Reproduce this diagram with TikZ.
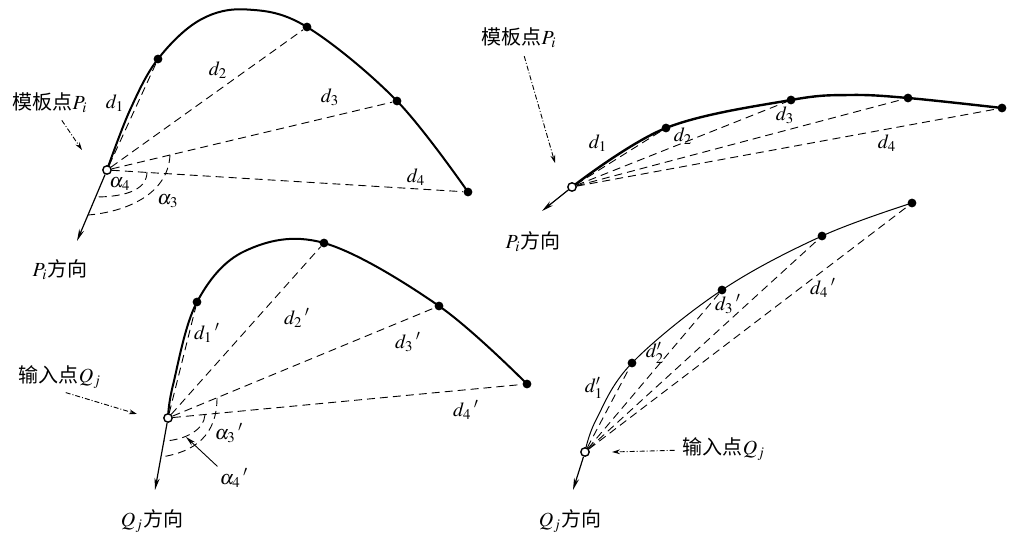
\documentclass[tikz,border=0pt]{standalone}
\usepackage{mathptmx}
\usepackage[no-math]{fontspec}
\setmainfont{Noto Sans CJK SC}
\usetikzlibrary{arrows.meta, backgrounds}

\begin{document}
\begin{tikzpicture}[
  x=0.5pt, y=-0.5pt,
  font=\fontsize{10}{12}\selectfont,
  dot/.style={circle, fill=black, inner sep=0pt, minimum size=4.4pt},
  hollow/.style={circle, draw=black, fill=white, line width=0.7pt,
                 inner sep=0pt, minimum size=4.2pt},
  chord/.style={dash pattern=on 4pt off 2.5pt, line width=0.45pt},
  curveline/.style={line width=1pt},
  dirarrow/.style={-{Stealth[length=6pt, width=2.6pt]}, line width=0.6pt},
  ptr/.style={-{Stealth[length=4pt, width=2.4pt]}, line width=0.45pt,
              dash pattern=on 2.5pt off 1pt on 0.5pt off 1pt},
  lbl/.style={inner sep=1pt}
]
\useasboundingbox (0,0) rectangle (1009,540);

% template curve (left)
\node[hollow] (P1) at (107,170) {};
\node[dot] (a1) at (158,59) {};
\node[dot] (a2) at (307,27) {};
\node[dot] (a3) at (397,101) {};
\node[dot] (a4) at (468,192) {};
\coordinate (P1dir) at (77,241);
\begin{scope}[on background layer]
\draw[curveline] plot[smooth, tension=0.6] coordinates {(P1.center) (130,110) (a1.center)
  (200,20) (247,9.5) (a2.center) (a3.center) (a4.center)};
\end{scope}
\foreach \p in {a1,a2,a3,a4} \draw[chord] (P1) -- (\p);
\draw[dirarrow] (P1) -- (P1dir);
\draw[chord] (147,172) .. controls (147,192) and (120,197) .. (95,197);
\draw[chord] (170,155) .. controls (168,195) and (125,212) .. (88,215);

\node[lbl] (tplA) at (50,103) {模板点$P_i$};
\coordinate (tplAtip) at (82,150);
\draw[ptr, shorten <=3pt] (tplA) -- (tplAtip);
\node[lbl] (d1A) at (115,103) {$d_1$};
\node[lbl] (d2A) at (218,70) {$d_2$};
\node[lbl] (d3A) at (330,97) {$d_3$};
\node[lbl] (d4A) at (416,177) {$d_4$};
\node[lbl] (al4A) at (120,184) {$\alpha_4$};
\node[lbl] (al3A) at (168,201) {$\alpha_3$};
\node[lbl] (dirA) at (60,270) {$P_i$方向};

% template curve (right)
\node[hollow] (P2) at (572,187) {};
\node[dot] (b1) at (666,128) {};
\node[dot] (b2) at (791,100) {};
\node[dot] (b3) at (908,98) {};
\node[dot] (b4) at (1002,108) {};
\coordinate (P2dir) at (542,211);
\begin{scope}[on background layer]
\draw[line width=1.2pt] plot[smooth, tension=0.6] coordinates {(P2.center) (b1.center)
  (b2.center) (850,95) (b3.center) (b4.center)};
\end{scope}
\foreach \p in {b1,b2,b3,b4} \draw[chord] (P2) -- (\p);
\draw[dirarrow] (P2) -- (P2dir);

\node[lbl] (tplB) at (519,38) {模板点$P_i$};
\coordinate (tplBtip) at (555,163);
\draw[ptr, shorten <=3pt] (tplB) -- (tplBtip);
\node[lbl] (d1B) at (598,143) {$d_1$};
\node[lbl] (d2B) at (683,136) {$d_2$};
\node[lbl] (d3B) at (785,115) {$d_3$};
\node[lbl] (d4B) at (887,143) {$d_4$};
\node[lbl] (dirB) at (533,242) {$P_i$方向};

% input curve (left)
\node[hollow] (Q1) at (168,418) {};
\node[dot] (c1) at (197,302) {};
\node[dot] (c2) at (324,243) {};
\node[dot] (c3) at (439,306) {};
\node[dot] (c4) at (527,384) {};
\coordinate (Q1dir) at (155,490);
\begin{scope}[on background layer]
\draw[curveline] plot[smooth, tension=0.6] coordinates {(Q1.center) (173,385) (c1.center)
  (245,251) (c2.center) (c3.center) (c4.center)};
\end{scope}
\foreach \p in {c1,c2,c3,c4} \draw[chord] (Q1) -- (\p);
\draw[dirarrow] (Q1) -- (Q1dir);
\draw[chord] (205,415) .. controls (204,430) and (185,440) .. (164,441);
\draw[chord] (217,398) .. controls (217,435) and (195,452) .. (161,457);

\node[lbl] (inpC) at (60,377) {输入点$Q_j$};
\coordinate (inpCtip) at (137,414);
\draw[ptr, shorten <=3pt] (inpC.south) -- (inpCtip);
\node[lbl] (d1C) at (207,333) {$d_1\,'$};
\node[lbl] (d2C) at (297,318) {$d_2\,'$};
\node[lbl] (d3C) at (408,342) {$d_3\,'$};
\node[lbl] (d4C) at (466,410) {$d_4\,'$};
\node[lbl] (al3C) at (229,433) {$\alpha_3\,'$};
\node[lbl] (al4C) at (234,478) {$\alpha_4\,'$};
\coordinate (al4Ctip) at (186,437);
\draw[-{Stealth[length=5pt, width=2.4pt]}, line width=0.45pt] (al4C.north west) -- (al4Ctip);
\node[lbl] (dirC) at (152,521) {$Q_j$方向};

% input curve (right)
\node[hollow] (Q2) at (585,452) {};
\node[dot] (e1) at (632,363) {};
\node[dot] (e2) at (722,290) {};
\node[dot] (e3) at (822,236) {};
\node[dot] (e4) at (912,203) {};
\coordinate (Q2dir) at (573,490);
\begin{scope}[on background layer]
\draw[line width=0.5pt] plot[smooth, tension=0.6] coordinates {(Q2.center) (596,420)
  (e1.center) (e2.center) (e3.center) (e4.center)};
\end{scope}
\foreach \p in {e1,e2,e3,e4} \draw[chord] (Q2) -- (\p);
\draw[dirarrow] (Q2) -- (Q2dir);

\node[lbl] (inpD) at (724,449) {输入点$Q_j$};
\coordinate (inpDtip) at (612,452);
\draw[ptr, shorten <=3pt] (inpD) -- (inpDtip);
\node[lbl] (d1D) at (594,388) {$d'_1$};
\node[lbl] (d2D) at (655,353) {$d'_2$};
\node[lbl] (d3D) at (728,304) {$d_3\,'$};
\node[lbl] (d4D) at (823,288) {$d_4\,'$};
\node[lbl] (dirD) at (570,521) {$Q_j$方向};
\end{tikzpicture}
\end{document}
